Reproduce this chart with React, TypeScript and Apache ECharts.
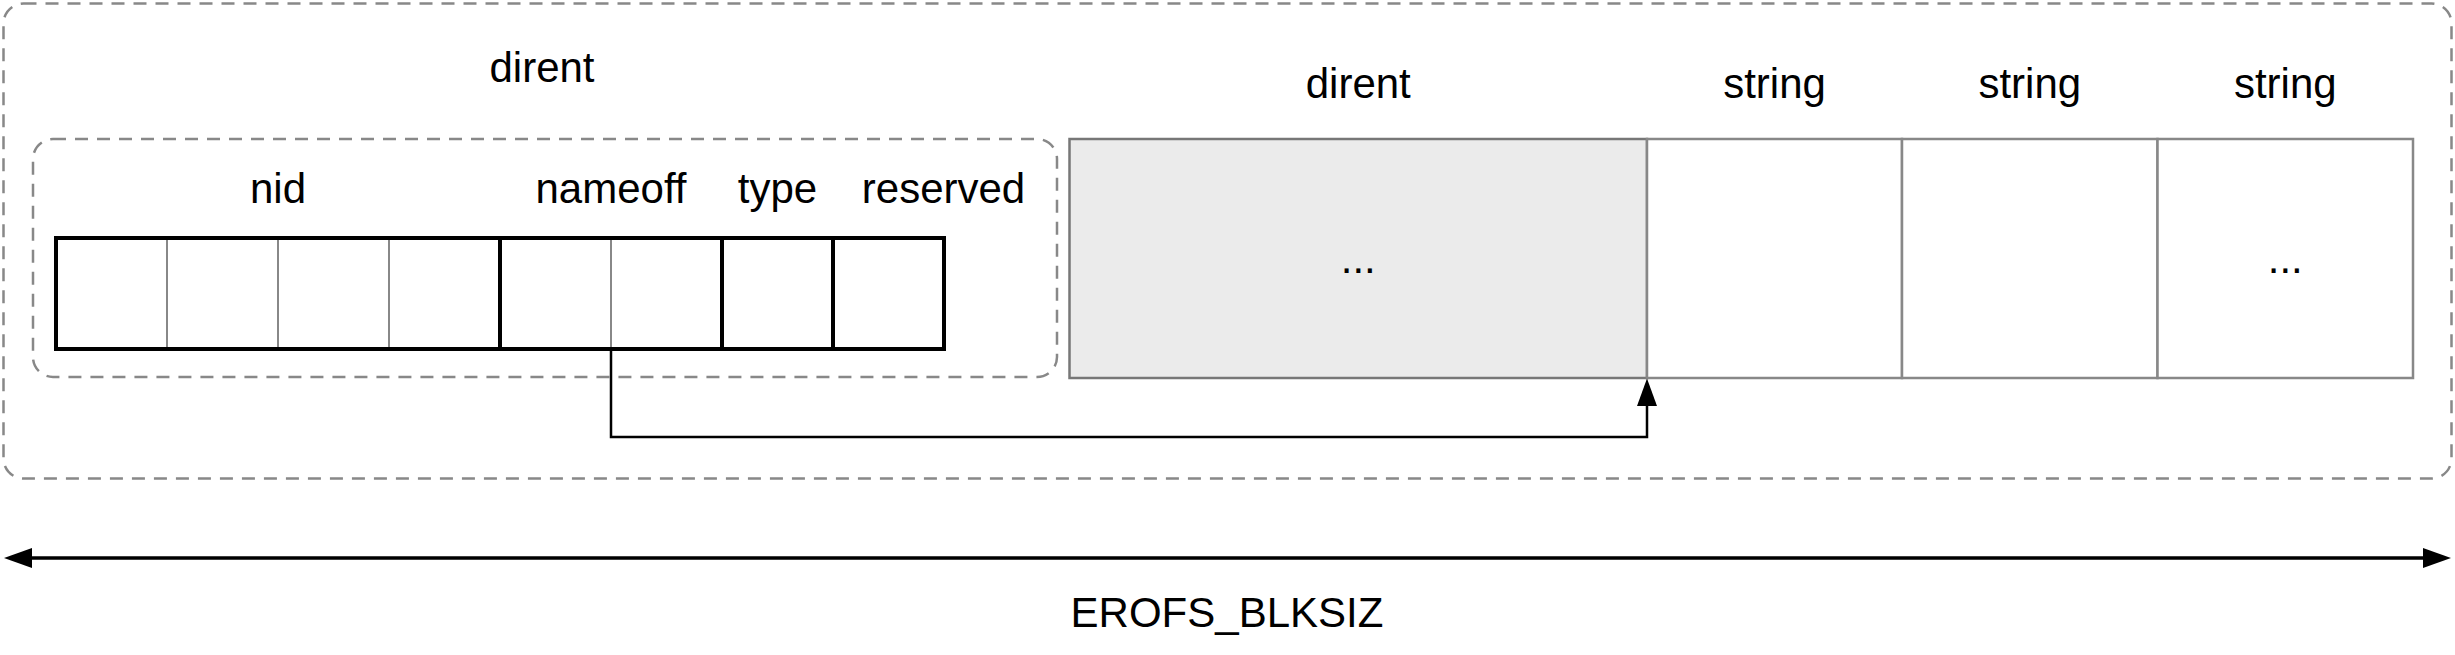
import { useEffect, useRef } from 'react'
import * as echarts from 'echarts'

// dirent fields and their sizes in bytes
const FIELDS      = ['nid', 'nameoff', 'type', 'reserved']
const FIELD_BYTES = [4, 2, 1, 1]

// the block: one run of dirents followed by name strings
const BLOCKS      = ['dirent', 'string', 'string', 'string']
const BLOCK_TEXT  = ['...', '', '', '...']
const BLOCK_FILL  = ['#ebebeb', '#ffffff', '#ffffff', '#ffffff']

const TOP_LABEL   = 'dirent'
const SIZE_LABEL  = 'EROFS_BLKSIZ'

// layout (px)
const W = 2455
const H = 655
const FONT = '"Liberation Sans", Helvetica, Arial, sans-serif'
const FS = 42
const GRAY = '#888888'

const CELL_X0 = 56
const CELL_W  = 111
const CELL_Y0 = 238
const CELL_Y1 = 349
const LABEL_NUDGE = [0, 0, 0, 55]

const BLOCK_X = [1069.5, 1647, 1902, 2157.5, 2413]
const BLOCK_Y0 = 139
const BLOCK_Y1 = 378

export default function App() {
  const ref = useRef<HTMLDivElement>(null)

  useEffect(() => {
    document.body.style.margin = '0'
    if (!ref.current) return
    const chart = echarts.init(ref.current, null, { renderer: 'svg' })

    const renderItem = (_params: any, api: any) => {
      const p = (x: number, y: number) => api.coord([x, y])
      const children: any[] = []
      const text = (s: string, x: number, baseline: number, size = FS) => {
        const [cx, cy] = p(x, baseline - size * 0.3465)
        children.push({
          type: 'text',
          style: {
            text: s, x: cx, y: cy, fill: '#000', font: `${size}px ${FONT}`,
            align: 'center', verticalAlign: 'middle',
          },
        })
      }
      const rect = (x0: number, y0: number, x1: number, y1: number, style: any, r = 0) => {
        const [ax, ay] = p(x0, y0)
        const [bx, by] = p(x1, y1)
        children.push({ type: 'rect', shape: { x: ax, y: ay, width: bx - ax, height: by - ay, r }, style })
      }
      const line = (pts: number[][], style: any) => {
        children.push({ type: 'polyline', shape: { points: pts.map(q => p(q[0], q[1])) }, style: { fill: 'none', ...style } })
      }
      const tri = (pts: number[][]) => {
        children.push({ type: 'polygon', shape: { points: pts.map(q => p(q[0], q[1])) }, style: { fill: '#000' } })
      }
      const dashed = { fill: 'none', stroke: GRAY, lineWidth: 2.5, lineDash: [13, 9] }

      // outer block frame and inner dirent frame
      rect(3.5, 3.5, 2451.5, 478.5, dashed, 20)
      rect(33, 139, 1057, 377, dashed, 20)
      text(TOP_LABEL, 542, 82)

      // byte cells
      const totalBytes = FIELD_BYTES.reduce((a, b) => a + b, 0)
      const xEnd = CELL_X0 + totalBytes * CELL_W
      let byte = 0
      FIELDS.forEach((name, i) => {
        const start = byte
        const end = byte + FIELD_BYTES[i]
        for (let b = start + 1; b < end; b++) {
          const x = CELL_X0 + b * CELL_W
          line([[x, CELL_Y0], [x, CELL_Y1]], { stroke: GRAY, lineWidth: 2 })
        }
        const cx = CELL_X0 + (start + end) / 2 * CELL_W + LABEL_NUDGE[i]
        text(name, cx, 203)
        byte = end
      })
      byte = 0
      FIELD_BYTES.forEach((n, i) => {
        byte += n
        if (i < FIELD_BYTES.length - 1) {
          const x = CELL_X0 + byte * CELL_W
          line([[x, CELL_Y0], [x, CELL_Y1]], { stroke: '#000', lineWidth: 4 })
        }
      })
      rect(CELL_X0, CELL_Y0, xEnd, CELL_Y1, { fill: 'none', stroke: '#000', lineWidth: 4 })

      // block regions
      BLOCKS.forEach((name, i) => {
        const x0 = BLOCK_X[i]
        const x1 = BLOCK_X[i + 1]
        rect(x0, BLOCK_Y0, x1, BLOCK_Y1, { fill: BLOCK_FILL[i], stroke: i === 0 ? '#777777' : GRAY, lineWidth: 2.5 })
        text(name, (x0 + x1) / 2, 98)
        if (BLOCK_TEXT[i]) text(BLOCK_TEXT[i], (x0 + x1) / 2, 273)
      })

      // nameoff -> first string
      const fromX = CELL_X0 + (FIELD_BYTES[0] + 1) * CELL_W
      const toX = BLOCK_X[1]
      line([[fromX, CELL_Y1 + 2], [fromX, 437], [toX, 437], [toX, 404]], { stroke: '#000', lineWidth: 2.5 })
      tri([[toX, BLOCK_Y1 + 0.5], [toX - 10, 406], [toX + 10, 406]])

      // block size
      line([[30, 558], [2425, 558]], { stroke: '#000', lineWidth: 3.5 })
      tri([[4, 558], [32, 548], [32, 568]])
      tri([[2451, 558], [2423, 548], [2423, 568]])
      text(SIZE_LABEL, 1227, 627)

      return { type: 'group', children }
    }

    chart.setOption({
      animation: false,
      backgroundColor: '#ffffff',
      grid: { left: 0, right: 0, top: 0, bottom: 0 },
      xAxis: { type: 'value', min: 0, max: W, show: false },
      yAxis: { type: 'value', min: 0, max: H, inverse: true, show: false },
      series: [{
        type: 'custom',
        coordinateSystem: 'cartesian2d',
        data: [[0, 0]],
        renderItem,
        silent: true,
        clip: false,
      }],
    })

    return () => chart.dispose()
  }, [])

  return <div ref={ref} style={{ width: W, height: H }} />
}
